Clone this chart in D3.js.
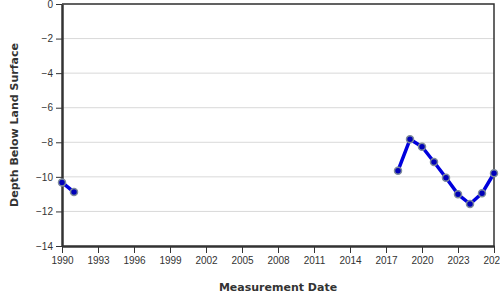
<!DOCTYPE html>
<html>
<head>
<meta charset="utf-8">
<script src="https://cdn.jsdelivr.net/npm/d3@7"></script>
<style>
  body { margin: 0; background: #fff; }
  svg { display: block; font-family: "DejaVu Sans", sans-serif; }
</style>
</head>
<body>
<div id="chart"></div>
<script>
// measurement years and depth below land surface (ft)
const years = [1990, 1991, 2018, 2019, 2020, 2021, 2022, 2023, 2024, 2025, 2026];
const depths = [-10.32, -10.88, -9.64, -7.83, -8.26, -9.14, -10.05, -11.01, -11.57, -10.95, -9.79];
// null marks the gap in the record
const gapAfter = [1991];
const yTicks = [0, -2, -4, -6, -8, -10, -12, -14];
const xTicks = [1990, 1993, 1996, 1999, 2002, 2005, 2008, 2011, 2014, 2017, 2020, 2023, 2026];

const width = 500, height = 300;
const margin = {top: 4, right: 6, bottom: 54, left: 62};

const svg = d3.select("#chart").append("svg")
  .attr("width", width)
  .attr("height", height);

const x = d3.scaleLinear()
  .domain([1990, 2026])
  .range([margin.left, width - margin.right]);

const y = d3.scaleLinear()
  .domain([0, -14])
  .range([margin.top, height - margin.bottom]);

// gridlines
svg.append("g")
  .selectAll("line")
  .data(yTicks)
  .enter().append("line")
  .attr("x1", margin.left)
  .attr("x2", width - margin.right)
  .attr("y1", d => y(d))
  .attr("y2", d => y(d))
  .attr("stroke", "#d9d9d9")
  .attr("stroke-width", 1);

// frame top + right
svg.append("path")
  .attr("d", `M${margin.left},${margin.top}H${width - margin.right}V${height - margin.bottom}`)
  .attr("fill", "none")
  .attr("stroke", "#333")
  .attr("stroke-width", 1.5);

const yAxis = svg.append("g")
  .attr("transform", `translate(${margin.left},0)`)
  .call(d3.axisLeft(y).tickValues(yTicks).tickSize(6).tickPadding(3).tickSizeOuter(0));

const xAxis = svg.append("g")
  .attr("transform", `translate(0,${height - margin.bottom})`)
  .call(d3.axisBottom(x).tickValues(xTicks).tickFormat(d3.format("d")).tickSize(7).tickPadding(4).tickSizeOuter(0));

[yAxis, xAxis].forEach(a => {
  a.select(".domain").attr("stroke", "#333").attr("stroke-width", 2.5);
  a.selectAll(".tick line").attr("stroke", "#333").attr("stroke-width", 1);
  a.selectAll(".tick text").attr("fill", "#333").style("font-size", "10px");
});

svg.append("text")
  .attr("transform", `translate(18,${(margin.top + height - margin.bottom) / 2}) rotate(-90)`)
  .attr("text-anchor", "middle")
  .attr("fill", "#333")
  .style("font-size", "11px")
  .style("font-weight", "bold")
  .text("Depth Below Land Surface");

svg.append("text")
  .attr("x", (margin.left + width - margin.right) / 2)
  .attr("y", 291)
  .attr("text-anchor", "middle")
  .attr("fill", "#333")
  .style("font-size", "11px")
  .style("font-weight", "bold")
  .text("Measurement Date");

const points = years.map((yr, i) => ({year: yr, depth: depths[i]}));

// split series at gaps
const segments = [];
let cur = [];
points.forEach(p => {
  cur.push(p);
  if (gapAfter.includes(p.year)) { segments.push(cur); cur = []; }
});
if (cur.length) segments.push(cur);

const line = d3.line()
  .x(d => x(d.year))
  .y(d => y(d.depth));

svg.append("g")
  .selectAll("path")
  .data(segments)
  .enter().append("path")
  .attr("d", line)
  .attr("fill", "none")
  .attr("stroke", "#0000dd")
  .attr("stroke-width", 3.5)
  .attr("stroke-linejoin", "round");

svg.append("g")
  .selectAll("circle")
  .data(points)
  .enter().append("circle")
  .attr("cx", d => x(d.year))
  .attr("cy", d => y(d.depth))
  .attr("r", 3.5)
  .attr("fill", "#0000b8")
  .attr("stroke", "#7f8c9c")
  .attr("stroke-width", 1.5);
</script>
</body>
</html>
